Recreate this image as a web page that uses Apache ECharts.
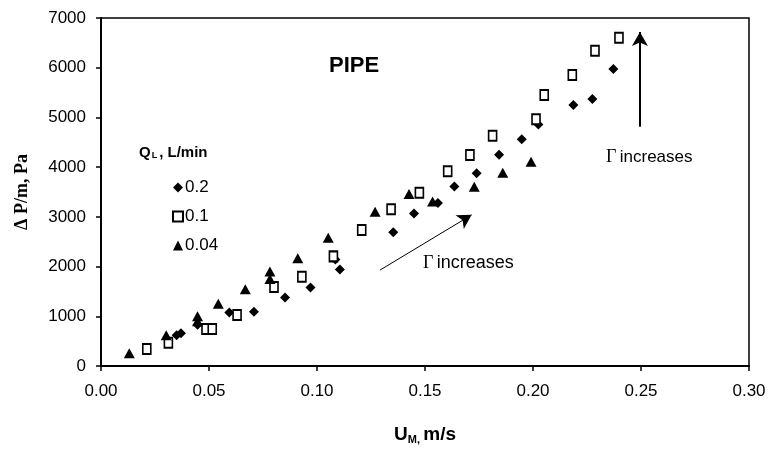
<!DOCTYPE html>
<html>
<head>
<meta charset="utf-8">
<script src="https://cdn.jsdelivr.net/npm/echarts@6/dist/echarts.min.js"></script>
<style>
  html, body { margin: 0; padding: 0; background: #fff; }
  #chart { width: 772px; height: 450px; }
</style>
</head>
<body>
<div id="chart"></div>
<script>
// legend names (Q_L, L/min)
const seriesNames = ['0.2', '0.1', '0.04'];

// Q = 0.2 (diamonds)
const uDiamond = [0.035, 0.037, 0.0447, 0.0594, 0.0708, 0.0852, 0.0970, 0.1085, 0.1106, 0.1353, 0.1449, 0.1560, 0.1636, 0.1739, 0.1843, 0.1948, 0.2025, 0.2187, 0.2275, 0.2372];
const pDiamond = [620, 660, 830, 1075, 1090, 1380, 1580, 2140, 1940, 2690, 3070, 3280, 3610, 3875, 4250, 4560, 4860, 5250, 5370, 5975];

// Q = 0.1 (open squares)
const uSquare = [0.0212, 0.0312, 0.0486, 0.0515, 0.0630, 0.0801, 0.0930, 0.1076, 0.1207, 0.1343, 0.1474, 0.1605, 0.1708, 0.1813, 0.2014, 0.2052, 0.2182, 0.2287, 0.2398];
const pSquare = [340, 470, 745, 745, 1026, 1590, 1796, 2205, 2735, 3151, 3485, 3915, 4243, 4631, 4961, 5450, 5852, 6341, 6602];

// Q = 0.04 (triangles)
const uTriangle = [0.0131, 0.0302, 0.0447, 0.0447, 0.0543, 0.0668, 0.0782, 0.0782, 0.0911, 0.1052, 0.1269, 0.1426, 0.1535, 0.1728, 0.1860, 0.1991];
const pTriangle = [255, 620, 1000, 900, 1250, 1542, 1900, 1750, 2166, 2580, 3103, 3460, 3310, 3606, 3888, 4109];

// annotation arrows, data coordinates
const arrow1 = [[0.1292, 1930], [0.1716, 3040]];
const arrow2 = [[0.2495, 4812], [0.2495, 6720]];

const pair = (xs, ys) => xs.map((x, i) => [x, ys[i]]);
const FONT = 'Liberation Sans, Arial, sans-serif';
const SERIF = 'Liberation Serif, Times New Roman, serif';

let myChart = echarts.init(document.getElementById('chart'));

let option = {
  backgroundColor: '#ffffff',
  animation: false,
  title: {
    text: 'PIPE',
    left: 324,
    top: 50,
    textStyle: { fontFamily: FONT, fontSize: 22, fontWeight: 'bold', color: '#000' }
  },
  legend: {
    data: seriesNames,
    orient: 'vertical',
    left: 167,
    top: 174,
    itemWidth: 10,
    itemHeight: 10,
    itemGap: 12,
    textStyle: { fontFamily: FONT, fontSize: 17, color: '#000', padding: [0, 0, 0, -3] }
  },
  grid: {
    left: 101,
    right: 23,
    top: 18,
    bottom: 84,
    show: true,
    borderColor: '#000',
    borderWidth: 1.5
  },
  xAxis: {
    type: 'value',
    min: 0,
    max: 0.3,
    interval: 0.05,
    name: '{u|U}{s|M,} {u|m/s}',
    nameLocation: 'middle',
    nameGap: 58,
    nameTextStyle: {
      rich: {
        u: { fontFamily: FONT, fontSize: 19, fontWeight: 'bold', color: '#000' },
        s: { fontFamily: FONT, fontSize: 11, fontWeight: 'bold', color: '#000', padding: [10, 0, 0, 0] }
      }
    },
    splitLine: { show: false },
    axisLine: { onZero: false, lineStyle: { color: '#000', width: 2 } },
    axisTick: { inside: false, length: 5, lineStyle: { color: '#000', width: 1.5 } },
    axisLabel: {
      fontFamily: FONT, fontSize: 17, color: '#000', margin: 17,
      formatter: v => v.toFixed(2)
    }
  },
  yAxis: {
    type: 'value',
    min: 0,
    max: 7000,
    interval: 1000,
    name: 'Δ P/m, Pa',
    nameLocation: 'middle',
    nameGap: 70,
    nameTextStyle: { fontFamily: SERIF, fontSize: 18, fontWeight: 'bold', color: '#000' },
    splitLine: { show: false },
    axisLine: { onZero: false, lineStyle: { color: '#000', width: 2 } },
    axisTick: { inside: false, length: 5, lineStyle: { color: '#000', width: 1.5 } },
    axisLabel: {
      fontFamily: FONT, fontSize: 17, color: '#000', margin: 15,
      formatter: v => String(v)
    }
  },
  graphic: [
    {
      type: 'text',
      left: 139,
      top: 145,
      style: {
        text: '{b|Q}{s|L}{b|, L/min}',
        rich: {
          b: { fontFamily: FONT, fontSize: 15, fontWeight: 'bold', fill: '#000' },
          s: { fontFamily: FONT, fontSize: 9, fontWeight: 'bold', fill: '#000', padding: [6, 2, 0, 1] }
        }
      }
    },
    {
      type: 'text',
      left: 423,
      top: 254,
      style: {
        text: '{g|Γ} {t|increases}',
        rich: {
          g: { fontFamily: SERIF, fontSize: 18, fill: '#000' },
          t: { fontFamily: FONT, fontSize: 18, fill: '#000' }
        }
      }
    },
    {
      type: 'text',
      left: 606,
      top: 148,
      style: {
        text: '{g|Γ} {t|increases}',
        rich: {
          g: { fontFamily: SERIF, fontSize: 18, fill: '#000' },
          t: { fontFamily: FONT, fontSize: 17, fill: '#000' }
        }
      }
    }
  ],
  series: [
    {
      name: seriesNames[0],
      type: 'scatter',
      symbol: 'diamond',
      symbolSize: 10,
      itemStyle: { color: '#000', opacity: 1 },
      data: pair(uDiamond, pDiamond)
    },
    {
      name: seriesNames[1],
      type: 'scatter',
      symbol: 'rect',
      symbolSize: [8, 10],
      itemStyle: { color: '#fff', borderColor: '#000', borderWidth: 1.8, opacity: 1 },
      data: pair(uSquare, pSquare)
    },
    {
      name: seriesNames[2],
      type: 'scatter',
      symbol: 'triangle',
      symbolSize: [11, 10],
      itemStyle: { color: '#000', opacity: 1 },
      data: pair(uTriangle, pTriangle)
    },
    {
      type: 'line',
      data: [],
      silent: true,
      markLine: {
        silent: true,
        symbol: ['none', 'arrow'],
        symbolSize: [12, 14],
        label: { show: false },
        data: [
          [{ coord: arrow1[0], lineStyle: { width: 1, color: '#000', type: 'solid' } }, { coord: arrow1[1] }],
          [{ coord: arrow2[0], lineStyle: { width: 2, color: '#000', type: 'solid' } }, { coord: arrow2[1] }]
        ]
      }
    }
  ]
};
myChart.setOption(option);
window.onresize = function () {
  myChart.resize()
}
</script>
</body>
</html>
